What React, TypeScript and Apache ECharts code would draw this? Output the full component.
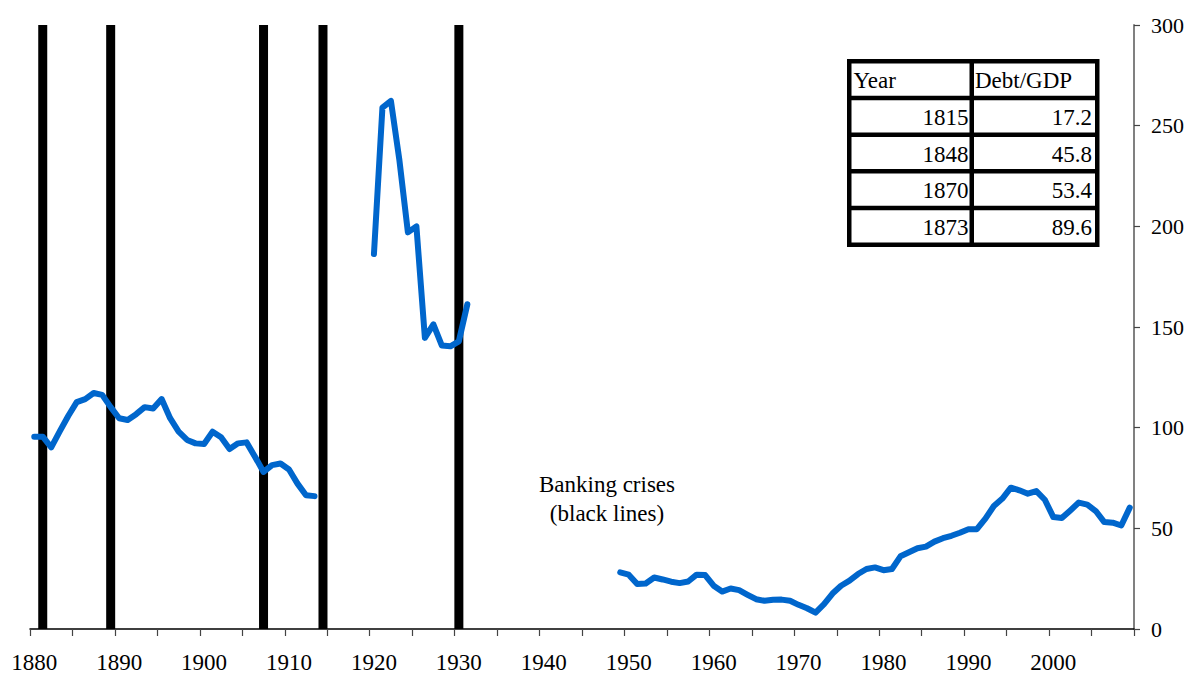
import React, { useEffect, useRef } from "react";
import * as echarts from "echarts";

const FIRST_YEAR = 1880;
const LAST_YEAR = 2009;
const years: string[] = [];
for (let y = FIRST_YEAR; y <= LAST_YEAR; y++) years.push(String(y));

const crisisYears = [1881, 1889, 1907, 1914, 1930];

const seg1Start = 1880;
const seg1Values = [
  95.5, 95.5, 90.2, 98.2, 105.8, 112.7, 114.2, 117.2, 116.3, 110.2,
  104.7, 103.8, 106.7, 110.2, 109.5, 114.2, 104.7, 98.0, 93.9, 92.2,
  91.9, 98.0, 95.2, 89.4, 92.2, 92.7, 85.5, 78.0, 81.4, 82.2,
  79.2, 72.2, 66.4, 66.0,
];

const seg2Start = 1920;
const seg2Values = [186.2, 259.0, 262.3, 232.8, 197.0, 200.0, 144.6, 151.3, 140.8, 140.4, 142.9, 161.3];

const seg3Start = 1949;
const seg3Values = [
  28.1, // 1949
  27.0, 22.3, 22.6, 25.6, 24.6, 23.5, 22.8, 23.6, 27.0, 26.8, // 1950-59
  21.5, 18.6, 20.1, 19.3, 17.0, 14.8, 14.0, 14.5, 14.6, 14.0, // 1960-69
  12.0, 10.3, 8.1, 12.3, 17.6, 21.5, 24.0, 27.3, 29.8, 30.6, // 1970-79
  29.2, 29.8, 36.1, 38.1, 40.1, 40.9, 43.4, 45.1, 46.3, 47.8, // 1980-89
  49.5, 49.6, 54.8, 61.1, 64.8, 70.2, 68.9, 67.2, 68.5, 64.2, // 1990-99
  55.6, 55.1, 58.9, 62.8, 61.8, 58.6, 53.1, 52.8, 51.4, 60.3, // 2000-09
];

const yTicks = { min: 0, max: 300, interval: 50 };

const tableHeader = ["Year", "Debt/GDP"];
const tableYears = ["1815", "1848", "1870", "1873"];
const tableDebt = ["17.2", "45.8", "53.4", "89.6"];

const annotation = ["Banking crises", "(black lines)"];

const FONT = "Liberation Serif";

function buildLine(): (number | null)[] {
  const out: (number | null)[] = years.map(() => null);
  const put = (start: number, vals: number[]) => {
    vals.forEach((v, i) => {
      out[start - FIRST_YEAR + i] = v;
    });
  };
  put(seg1Start, seg1Values);
  put(seg2Start, seg2Values);
  put(seg3Start, seg3Values);
  return out;
}

function buildBars(): (number | null)[] {
  return years.map((y) => (crisisYears.includes(Number(y)) ? yTicks.max : null));
}

function txt(x: number, y: number, text: string, align: string, size = 23) {
  return {
    type: "text",
    x,
    y,
    style: {
      text,
      fontFamily: FONT,
      fontSize: size,
      fill: "#000",
      align,
      verticalAlign: "middle",
    },
    z: 102,
  };
}

function buildTable(): any[] {
  const els: any[] = [];
  const x0 = 847;
  const y0 = 59;
  const border = 4.5;
  const col1W = 118;
  const col2W = 121;
  const rowH = 32.2;
  const nRows = tableYears.length + 1;
  const totalW = border * 3 + col1W + col2W;
  const totalH = border * (nRows + 1) + rowH * nRows;
  els.push({
    type: "rect",
    shape: { x: x0, y: y0, width: totalW, height: totalH },
    style: { fill: "#000" },
    z: 100,
  });
  const rows = [tableHeader, ...tableYears.map((y, i) => [y, tableDebt[i]])];
  rows.forEach((row, r) => {
    const ry = y0 + border + r * (rowH + border);
    const c1x = x0 + border;
    const c2x = c1x + col1W + border;
    els.push({ type: "rect", shape: { x: c1x, y: ry, width: col1W, height: rowH }, style: { fill: "#fff" }, z: 101 });
    els.push({ type: "rect", shape: { x: c2x, y: ry, width: col2W, height: rowH }, style: { fill: "#fff" }, z: 101 });
    const ty = ry + rowH / 2 + 1;
    const isHeader = r === 0;
    els.push(txt(isHeader ? c1x + 2 : c1x + col1W - 1, ty, row[0], isHeader ? "left" : "right"));
    els.push(txt(isHeader ? c2x + 1 : c2x + col2W - 3, ty, row[1], isHeader ? "left" : "right"));
  });
  return els;
}

export default function App() {
  const ref = useRef<HTMLDivElement>(null);
  useEffect(() => {
    if (!ref.current) return;
    const chart = echarts.init(ref.current, undefined, { renderer: "svg" });
    chart.setOption({
      animation: false,
      backgroundColor: "#fff",
      textStyle: { fontFamily: FONT },
      grid: { left: 30, right: 57, top: 25, bottom: 48, containLabel: false },
      xAxis: {
        type: "category",
        data: years,
        boundaryGap: true,
        axisLine: { show: true, lineStyle: { color: "#000", width: 1.5 } },
        axisTick: { show: true, interval: 4, length: 7, lineStyle: { color: "#444", width: 1.2 } },
        axisLabel: {
          interval: 9,
          margin: 22,
          fontFamily: FONT,
          fontSize: 23,
          color: "#000",
        },
        splitLine: { show: false },
      },
      yAxis: {
        type: "value",
        position: "right",
        min: yTicks.min,
        max: yTicks.max,
        interval: yTicks.interval,
        axisLine: { show: true, lineStyle: { color: "#808080", width: 2 } },
        axisTick: { show: true, length: 6, lineStyle: { color: "#444", width: 1.2 } },
        axisLabel: {
          margin: 17,
          fontFamily: FONT,
          fontSize: 22,
          color: "#000",
        },
        splitLine: { show: false },
      },
      series: [
        {
          type: "bar",
          data: buildBars(),
          barWidth: 9,
          itemStyle: { color: "#000" },
          z: 2,
        },
        {
          type: "line",
          data: buildLine(),
          connectNulls: false,
          showSymbol: false,
          symbol: "none",
          lineStyle: { color: "#0066CC", width: 6, cap: "round", join: "round" },
          z: 3,
        },
      ],
      graphic: [
        ...buildTable(),
        txt(607, 484, annotation[0], "center"),
        txt(607, 513, annotation[1], "center"),
      ],
    });
    return () => chart.dispose();
  }, []);
  return (
    <div
      ref={ref}
      style={{ position: "absolute", left: 0, top: 0, width: 1191, height: 677 }}
    />
  );
}
